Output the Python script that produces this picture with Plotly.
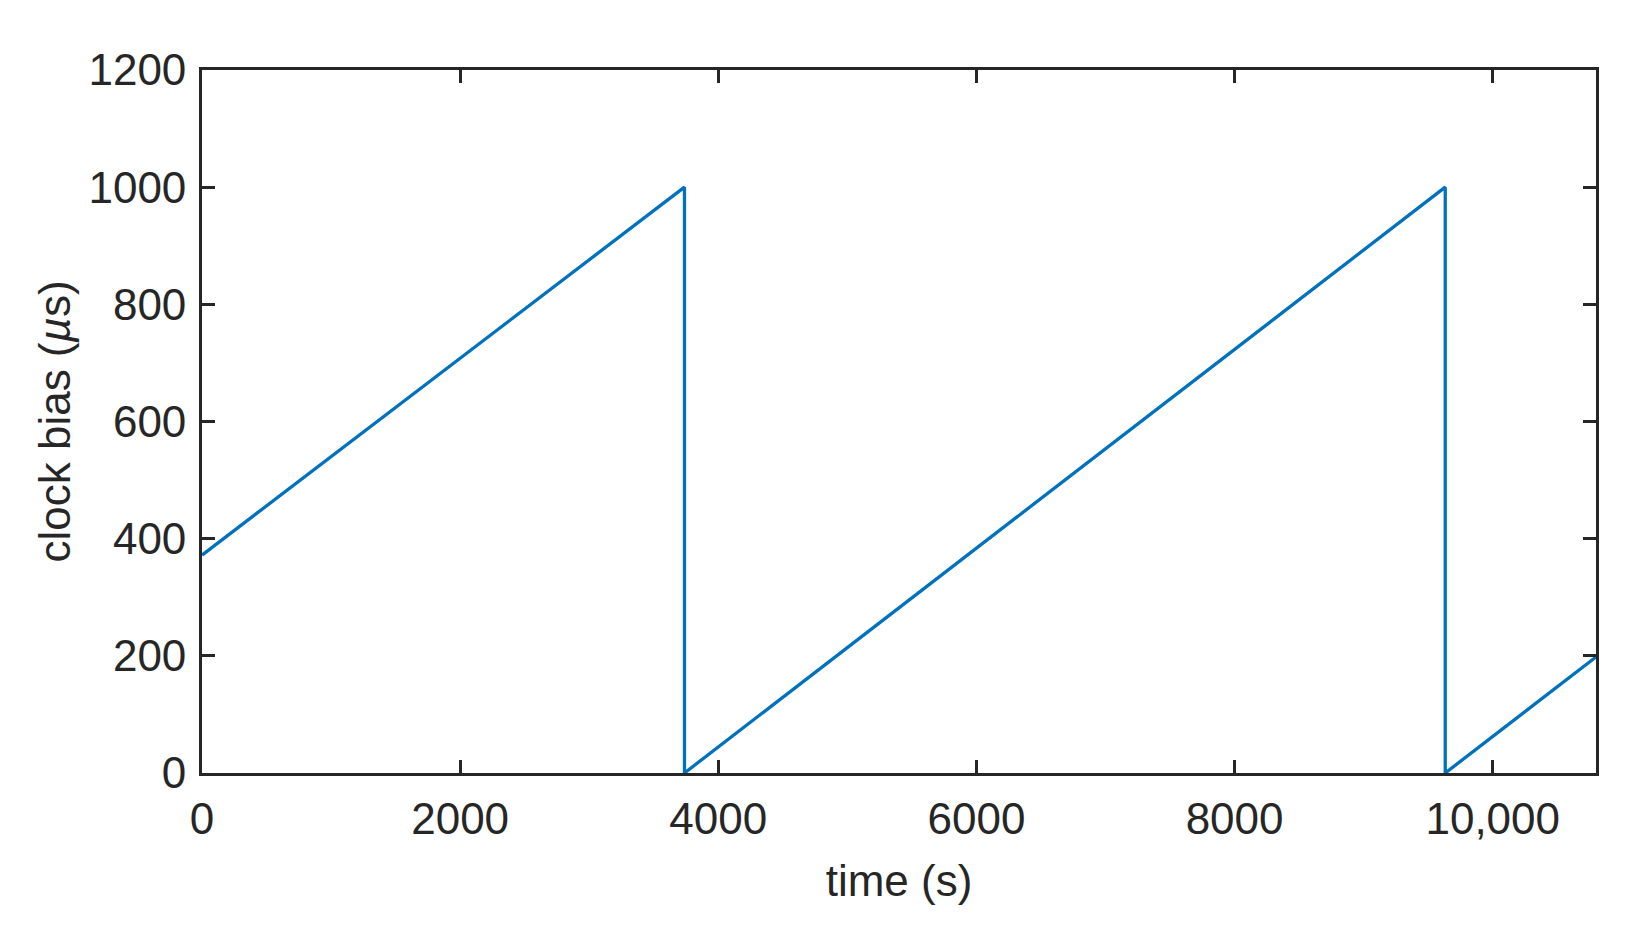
import plotly.graph_objects as go

# sawtooth clock bias
time_s = [0, 3738, 3738, 9632, 9632, 10800]
bias_us = [372, 1000, 0, 1000, 0, 198]

x_ticks = [0, 2000, 4000, 6000, 8000, 10000]
x_tick_text = ["0", "2000", "4000", "6000", "8000", "10,000"]
y_ticks = [0, 200, 400, 600, 800, 1000, 1200]

AXIS_COLOR = "#262626"
FONT_SIZE = 44

fig = go.Figure(
    go.Scatter(
        x=time_s,
        y=bias_us,
        mode="lines",
        line=dict(color="#0072BD", width=3.3),
        showlegend=False,
    )
)

axis_common = dict(
    showline=True,
    linecolor=AXIS_COLOR,
    linewidth=2.7,
    mirror="ticks",
    ticks="inside",
    ticklen=13,
    tickwidth=2.7,
    tickcolor=AXIS_COLOR,
    showgrid=False,
    zeroline=False,
    tickfont=dict(size=FONT_SIZE, color=AXIS_COLOR),
)

fig.update_xaxes(
    **axis_common,
    range=[0, 10800],
    tickvals=x_ticks,
    ticktext=x_tick_text,
    ticklabelstandoff=5,
    title=dict(text="time (s)", font=dict(size=FONT_SIZE, color=AXIS_COLOR), standoff=24),
)
fig.update_yaxes(
    **axis_common,
    range=[0, 1200],
    tickvals=y_ticks,
    ticklabelstandoff=4,
    title=dict(
        text="clock bias (<i>µ</i>s)",
        font=dict(size=FONT_SIZE, color=AXIS_COLOR),
        standoff=5,
    ),
)

# the page body adds ~8px, so margins are shifted to compensate
fig.update_layout(
    width=1646,
    height=925,
    template="plotly_white",
    plot_bgcolor="white",
    paper_bgcolor="white",
    font=dict(family="Liberation Sans, Arial, sans-serif", color=AXIS_COLOR),
    margin=dict(l=194, r=58, t=62, b=160),
)

fig.write_html("out.html")
